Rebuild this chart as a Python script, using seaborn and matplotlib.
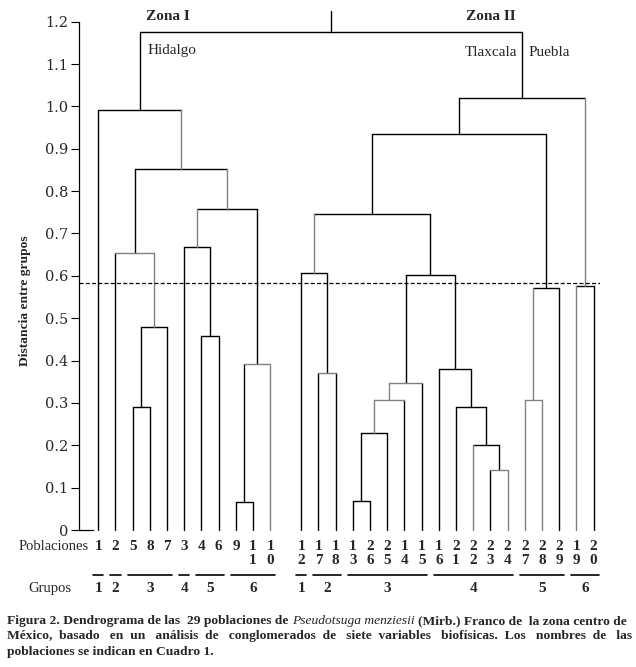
import numpy as np
import pandas as pd
import matplotlib
matplotlib.use('Agg')
import matplotlib.pyplot as plt
import seaborn as sns

# Orden de las hojas (poblaciones) en el dendrograma
hojas_zona1 = [1, 2, 5, 8, 7, 3, 4, 6, 9, 11, 10]
hojas_zona2 = [12, 17, 18, 13, 26, 25, 14, 15, 16, 21, 22, 23, 24, 27, 28, 29, 19, 20]

# Uniones: (izquierda, derecha, distancia); 'mN' se refiere a la union N
uniones = [
    (9, 11, 0.065),        # m0
    ('m0', 10, 0.391),     # m1
    (5, 8, 0.290),         # m2
    ('m2', 7, 0.480),      # m3
    (4, 6, 0.459),         # m4
    (3, 'm4', 0.669),      # m5
    (2, 'm3', 0.655),      # m6
    ('m5', 'm1', 0.759),   # m7
    ('m6', 'm7', 0.853),   # m8
    (1, 'm8', 0.991),      # m9
    (17, 18, 0.370),       # m10
    (12, 'm10', 0.606),    # m11
    (13, 26, 0.068),       # m12
    ('m12', 25, 0.228),    # m13
    ('m13', 14, 0.306),    # m14
    ('m14', 15, 0.348),    # m15
    (23, 24, 0.141),       # m16
    (22, 'm16', 0.200),    # m17
    (21, 'm17', 0.290),    # m18
    (16, 'm18', 0.379),    # m19
    ('m15', 'm19', 0.601), # m20
    ('m11', 'm20', 0.747), # m21
    (27, 28, 0.306),       # m22
    ('m22', 29, 0.571),    # m23
    ('m21', 'm23', 0.934), # m24
    (19, 20, 0.575),       # m25
    ('m24', 'm25', 1.021), # m26
    ('m9', 'm26', 1.175),  # m27
]
raiz_tope = 1.226

# tono de cada union: pierna izq, barra, pierna der (k negro, g gris)
tonos = ['kkk', 'kgg', 'kkk', 'kkk', 'kkk', 'kkk', 'kgg', 'gkk', 'kkg', 'kkg',
         'kgk', 'kkk', 'kkk', 'kkk', 'ggk', 'ggk', 'kgg', 'gkk', 'kkk', 'kkk',
         'kkk', 'gkk', 'ggg', 'gkk', 'kkk', 'gkk', 'kkg', 'kkk']

corte = 0.584

grupos_zona1 = [[1], [2], [5, 8, 7], [3], [4, 6], [9, 11, 10]]
grupos_zona2 = [[12], [17, 18], [13, 26, 25, 14, 15], [16, 21, 22, 23, 24], [27, 28, 29], [19, 20]]

# posicion de cada hoja (hueco entre zonas)
pos = {}
for i, h in enumerate(hojas_zona1):
    pos[h] = i
for i, h in enumerate(hojas_zona2):
    pos[h] = len(hojas_zona1) + 0.8 + i

xs = dict(pos)
alt = {h: 0.0 for h in pos}
filas = []
for n, ((a, b, d), tono) in enumerate(zip(uniones, tonos)):
    xa, xb = xs[a], xs[b]
    segs = [([xa, xa], [alt[a], d]), ([xa, xb], [d, d]), ([xb, xb], [alt[b], d])]
    for k, ((sx, sy), t) in enumerate(zip(segs, tono)):
        for x, y in zip(sx, sy):
            filas.append({'seg': f'{n}-{k}', 'x': x, 'y': y, 'tono': t})
    xs[f'm{n}'] = (xa + xb) / 2
    alt[f'm{n}'] = d
raiz = f'm{len(uniones) - 1}'
for x, y in [(xs[raiz], alt[raiz]), (xs[raiz], raiz_tope)]:
    filas.append({'seg': 'raiz', 'x': x, 'y': y, 'tono': 'k'})
df = pd.DataFrame(filas)

sns.set_theme(style='ticks')
plt.rcParams['font.family'] = ['Liberation Serif', 'DejaVu Serif']

fig = plt.figure(figsize=(6.36, 6.67), dpi=100)
ax = fig.add_axes([79 / 636, (667 - 530) / 667, (600 - 79) / 636, (530 - 9) / 667])

sns.lineplot(data=df, x='x', y='y', units='seg', estimator=None, hue='tono',
             palette={'k': 'black', 'g': '#808080'}, sort=False, legend=False,
             linewidth=1.0, ax=ax)
for l in ax.lines:
    l.set_clip_on(False)

ax.axhline(corte, color='black', lw=0.9, ls=(0, (3.2, 1.8)))

xmin, xmax = -1.122, 29.17
ax.set_xlim(xmin, xmax)
ax.set_ylim(0, 1.23)
ax.set_xticks([])
ax.set_xlabel('')
ax.set_ylabel('')
yt = np.round(np.arange(0, 1.21, 0.1), 1)
ax.set_yticks(yt)
ax.set_yticklabels(['0' if v == 0 else f'{v:.1f}' for v in yt],
                   fontfamily='DejaVu Serif', fontsize=10.5)
ax.tick_params(axis='y', direction='out', length=5.8, width=0.8, pad=2, color='black')
for s in ['top', 'right']:
    ax.spines[s].set_visible(False)
ax.spines['left'].set_bounds(0, 1.2)
ax.spines['bottom'].set_bounds(xmin, -0.3)
for s in ['left', 'bottom']:
    ax.spines[s].set_color('black')
    ax.spines[s].set_linewidth(0.9)

# etiquetas de las poblaciones
y1, y2 = -0.038, -0.071
ax.text(-0.54, y1, 'Poblaciones', ha='right', va='center', fontsize=10.5)
for h, x in pos.items():
    s = str(h)
    ax.text(x, y1, s[0], ha='center', va='center', fontsize=11, fontweight='bold')
    if len(s) > 1:
        ax.text(x, y2, s[1], ha='center', va='center', fontsize=11, fontweight='bold')

# grupos
yg, yn = -0.106, -0.139
ax.text(-2.81, yn, 'Grupos', ha='center', va='center', fontsize=10.5)
for grupos in [grupos_zona1, grupos_zona2]:
    for g, miembros in enumerate(grupos, start=1):
        x0 = pos[miembros[0]] - 0.3
        x1 = pos[miembros[-1]] + 0.3
        ax.plot([x0, x1], [yg, yg], color='black', lw=1.2, clip_on=False)
        ax.text((x0 + x1) / 2, yn, str(g), ha='center', va='center',
                fontsize=11, fontweight='bold')

# zonas
ax.text(4.05, 1.213, 'Zona I', ha='center', va='center', fontsize=11, fontweight='bold')
ax.text(22.83, 1.213, 'Zona II', ha='center', va='center', fontsize=11, fontweight='bold')
ax.text(2.89, 1.131, 'Hidalgo', ha='left', va='center', fontsize=11)
ax.text(24.34, 1.128, 'Tlaxcala', ha='right', va='center', fontsize=11)
ax.text(25.04, 1.128, 'Puebla', ha='left', va='center', fontsize=11)

fig.text(25 / 636, 1 - 301 / 667, 'Distancia entre grupos', rotation=90,
         ha='center', va='center', fontsize=9.7, fontweight='bold')

# pie de figura: tramos de texto con espacios repartidos (justificado)
renderer = fig.canvas.get_renderer()
tam_pie = 9.7


def estilo_kw(estilo):
    return dict(fontsize=tam_pie, va='baseline', ha='left',
                fontweight='normal' if estilo == 'i' else 'bold',
                fontstyle='italic' if estilo == 'i' else 'normal')


def ancho(texto, estilo):
    t = fig.text(0, 0, texto, **estilo_kw(estilo))
    w = t.get_window_extent(renderer).width
    t.remove()
    return w


def linea(yb, tramos, x0, x1, justificar=True):
    # tramos: lista de (texto, estilo)
    palabras = [(w, e) for texto, e in tramos for w in texto.split()]
    esp = ancho('a a', 'b') - ancho('aa', 'b')
    natural = ancho(' '.join(w for w, _ in palabras), 'b')
    n = len(palabras) - 1
    huecos = [1] * n
    if justificar:
        extra = max(int(round(((x1 - x0) * 636 - natural) / esp)), 0)
        base, resto = divmod(extra, n)
        sobra = {int((k + 0.5) * n / resto) for k in range(resto)} if resto else set()
        huecos = [1 + base + (1 if j in sobra else 0) for j in range(n)]
    x = x0 * 636
    i = 0
    for texto, e in tramos:
        m = len(texto.split())
        trozo = ''
        for j in range(m):
            trozo += palabras[i + j][0]
            if j < m - 1:
                trozo += ' ' * huecos[i + j]
        fig.text(x / 636, yb, trozo, **estilo_kw(e))
        x += ancho(trozo, e)
        if i + m - 1 < n:
            x += esp * huecos[i + m - 1]
        i += m


l1 = [('Figura 2. Dendrograma de las 29 poblaciones de', 'b'),
      ('Pseudotsuga menziesii', 'i'),
      ('(Mirb.) Franco de la zona centro de', 'b')]
l2 = [('México, basado en un análisis de conglomerados de siete variables biofísicas. Los nombres de las', 'b')]
l3 = [('poblaciones se indican en Cuadro 1.', 'b')]
x0c, x1c = 7 / 636, 632 / 636
linea(1 - 624 / 667, l1, x0c, x1c)
linea(1 - 639.5 / 667, l2, x0c, x1c)
linea(1 - 655 / 667, l3, x0c, x1c, justificar=False)

fig.savefig('out.png', dpi=100, facecolor='white')
